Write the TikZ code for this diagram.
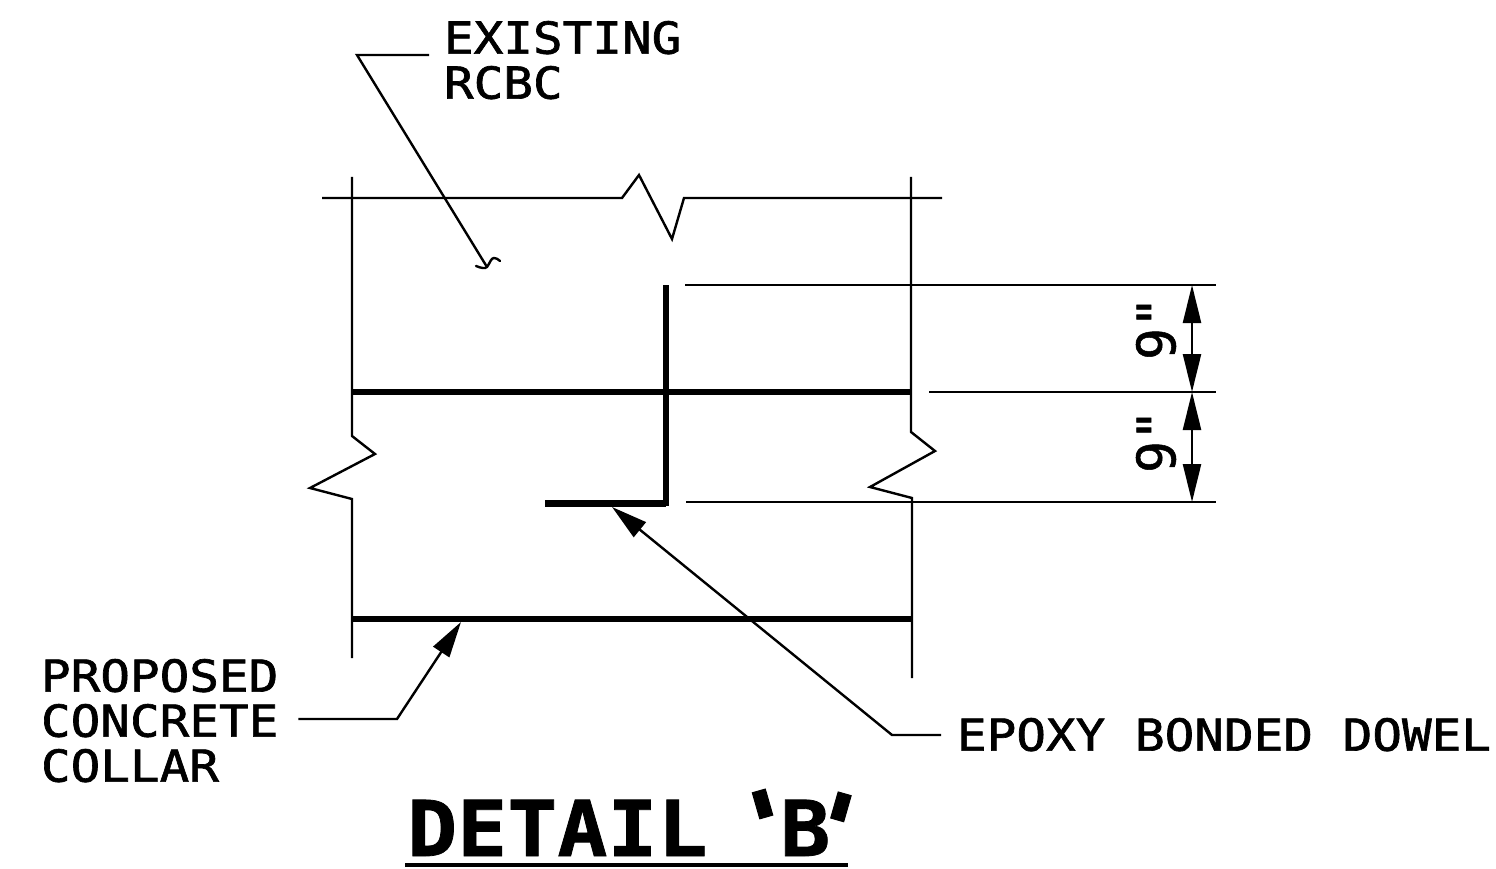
\documentclass[tikz,border=0pt]{standalone}
\usepackage{fontspec}
\usepackage{graphicx}
\usetikzlibrary{arrows.meta}
\newfontfamily\labelfont[FakeStretch=1.12,FakeBold=1.5]{DejaVu Sans Mono}
\newfontfamily\dimfont[FakeBold=1]{DejaVu Sans Mono}
\newfontfamily\primefont[FakeBold=1]{DejaVu Sans Mono Oblique}
\newfontfamily\titlefont[FakeStretch=1.08,FakeBold=1]{DejaVu Sans Mono Bold}
\newcommand{\lquote}{\raisebox{-14pt}{\rotatebox{16}{\scalebox{1.3}{'}}}}
\newcommand{\rquote}{\raisebox{1pt}{\rotatebox{-16}{\scalebox{1.3}{'}}}}
\tikzset{
  thinline/.style={line width=2.4pt,line join=miter},
  heavy/.style={line width=6.2pt},
  tip/.style={-{Stealth[length=36pt,width=19pt,inset=0pt]},line width=2.4pt},
  dimtip/.style={{Stealth[length=38pt,width=18pt,inset=0pt]}-{Stealth[length=38pt,width=18pt,inset=0pt]},line width=2.4pt},
  lbl/.style={inner sep=0pt,outer sep=0pt,align=left,font=\labelfont\fontsize{44}{45}\selectfont},
  dimlbl/.style={inner sep=0pt,outer sep=0pt,rotate=90,font=\dimfont\fontsize{53}{53}\selectfont},
}
\begin{document}
\begin{tikzpicture}[x=1pt,y=-1pt]
\useasboundingbox (0,0) rectangle (1496,869);
% labels
\node[lbl,anchor=north west] (existing) at (444,21) {EXISTING\\RCBC};
\node[lbl,anchor=north west] (collar) at (41,659) {PROPOSED\\CONCRETE\\COLLAR};
\node[lbl,anchor=north west] (dowel) at (957,718) {EPOXY BONDED DOWEL};
\node[inner sep=0pt,anchor=base west,font=\titlefont\fontsize{77}{77}\selectfont] (title) at (407,856) {DETAIL\kern20pt\lquote\kern-30pt B\kern-37pt\rquote};
\node[dimlbl] (dima) at (1156,328) {9{\primefont"}};
\node[dimlbl] (dimb) at (1156,441) {9{\primefont"}};
% named points
\coordinate (wl1) at (352,177); \coordinate (wl2) at (352,436); \coordinate (wl3) at (375,454);
\coordinate (wl4) at (310,488); \coordinate (wl5) at (352,499); \coordinate (wl6) at (352,658);
\coordinate (wr1) at (911,177); \coordinate (wr2) at (911,432); \coordinate (wr3) at (935,451);
\coordinate (wr4) at (870,487); \coordinate (wr5) at (912,498); \coordinate (wr6) at (912,678);
\coordinate (t1) at (322,198); \coordinate (t2) at (622,198); \coordinate (t3) at (639,175);
\coordinate (t4) at (672,239); \coordinate (t5) at (684,198); \coordinate (t6) at (942,198);
\coordinate (exbend) at (357,55); \coordinate (extip) at (487,267);
\coordinate (dw1) at (666,285); \coordinate (dw2) at (666,506); \coordinate (dw3) at (545,503.5);
\coordinate (dwcorner) at (666,503.5);
\coordinate (dtip) at (612,507); \coordinate (dbend) at (892,735);
\coordinate (ctip) at (461,622); \coordinate (cbend) at (397,719);
\coordinate (d1) at (1192,285); \coordinate (d2) at (1192,392); \coordinate (d3) at (1192,502);
% walls and break lines
\draw[thinline] (wl1) -- (wl2) -- (wl3) -- (wl4) -- (wl5) -- (wl6);
\draw[thinline] (wr1) -- (wr2) -- (wr3) -- (wr4) -- (wr5) -- (wr6);
\draw[thinline] (t1) -- (t2) -- (t3) -- (t4) -- (t5) -- (t6);
% heavy bars
\draw[heavy] (352,392) coordinate (h1) -- (911,392) coordinate (h2);
\draw[heavy] (352,619) coordinate (h3) -- (912,619) coordinate (h4);
\draw[heavy] (dw1) -- (dw2);
\draw[heavy] (dw3) -- (dwcorner);
% extension lines
\draw[thinline] (685,285) coordinate (e1) -- (1216,285) coordinate (e2);
\draw[thinline] (929,392) coordinate (e3) -- (1216,392) coordinate (e4);
\draw[thinline] (686,502) coordinate (e5) -- (1216,502) coordinate (e6);
% dimension arrows
\draw[dimtip] (d1) -- (d2);
\draw[dimtip] (d2) -- (d3);
% leaders
\draw[thinline] ([xshift=-15pt]existing.west |- exbend) -- (exbend) -- (extip);
\draw[thinline,line cap=round] (476,266) .. controls (481,268) and (485,269) .. (487,267) .. controls (490,263) and (491,258) .. (494,258) .. controls (496,258) and (498,259) .. (500,261);
\draw[tip] ([xshift=-16pt]dowel.west |- dbend) -- (dbend) -- (dtip);
\draw[tip] ([xshift=20pt]collar.east |- cbend) -- (cbend) -- (ctip);
% title underline
\draw[line width=3.2pt] (405,865) coordinate (u1) -- (848,865) coordinate (u2);
\end{tikzpicture}
\end{document}
